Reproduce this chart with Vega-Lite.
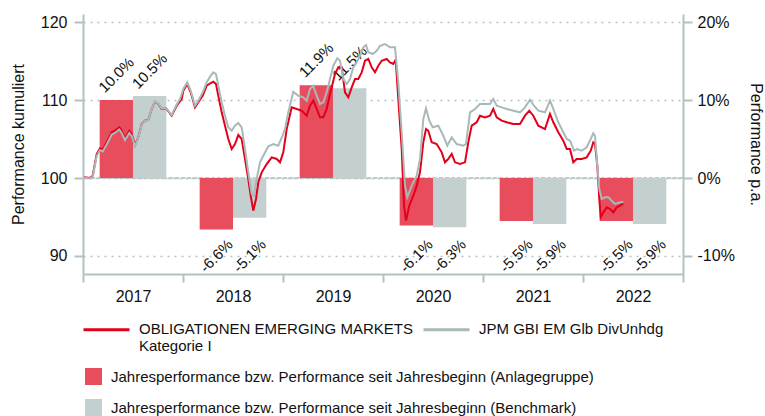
{
  "$schema": "https://vega.github.io/schema/vega-lite/v6.json",
  "width": 600,
  "height": 260,
  "padding": {"left": 10, "top": 14, "right": 2, "bottom": 0},
  "background": "white",
  "config": {
    "font": "Liberation Sans",
    "view": {"stroke": null},
    "locale": {"number": {"decimal": ".", "thousands": ",", "grouping": [3], "currency": ["$", ""], "minus": "-"}},
    "axis": {
      "labelFontSize": 16,
      "labelColor": "#111",
      "titleFontSize": 16,
      "titleFontWeight": "normal",
      "titleColor": "#111",
      "domainColor": "#b3c1c1",
      "domainWidth": 2,
      "tickColor": "#b3c1c1",
      "tickWidth": 2,
      "tickSize": 9
    },
    "legend": {"labelFontSize": 15, "labelColor": "#111", "padding": 0, "title": null, "labelLimit": 600}
  },
  "datasets": {
    "bars": [
      {"year": "2017", "type": "Anlagegruppe", "perf": 0.100},
      {"year": "2017", "type": "Benchmark", "perf": 0.105},
      {"year": "2018", "type": "Anlagegruppe", "perf": -0.066},
      {"year": "2018", "type": "Benchmark", "perf": -0.051},
      {"year": "2019", "type": "Anlagegruppe", "perf": 0.119},
      {"year": "2019", "type": "Benchmark", "perf": 0.115},
      {"year": "2020", "type": "Anlagegruppe", "perf": -0.061},
      {"year": "2020", "type": "Benchmark", "perf": -0.063},
      {"year": "2021", "type": "Anlagegruppe", "perf": -0.055},
      {"year": "2021", "type": "Benchmark", "perf": -0.059},
      {"year": "2022", "type": "Anlagegruppe", "perf": -0.055},
      {"year": "2022", "type": "Benchmark", "perf": -0.059}
    ],
    "lines": [
      {"series": "fund", "t": 2017.010, "v": 100.09},
      {"series": "fund", "t": 2017.070, "v": 100.00},
      {"series": "fund", "t": 2017.097, "v": 100.29},
      {"series": "fund", "t": 2017.137, "v": 103.08},
      {"series": "fund", "t": 2017.170, "v": 103.81},
      {"series": "fund", "t": 2017.197, "v": 103.63},
      {"series": "fund", "t": 2017.237, "v": 104.58},
      {"series": "fund", "t": 2017.287, "v": 105.86},
      {"series": "fund", "t": 2017.320, "v": 106.06},
      {"series": "fund", "t": 2017.363, "v": 106.50},
      {"series": "fund", "t": 2017.387, "v": 106.06},
      {"series": "fund", "t": 2017.420, "v": 105.09},
      {"series": "fund", "t": 2017.463, "v": 106.06},
      {"series": "fund", "t": 2017.487, "v": 105.64},
      {"series": "fund", "t": 2017.520, "v": 104.23},
      {"series": "fund", "t": 2017.553, "v": 105.22},
      {"series": "fund", "t": 2017.587, "v": 106.92},
      {"series": "fund", "t": 2017.620, "v": 107.35},
      {"series": "fund", "t": 2017.653, "v": 107.47},
      {"series": "fund", "t": 2017.687, "v": 108.85},
      {"series": "fund", "t": 2017.720, "v": 109.78},
      {"series": "fund", "t": 2017.753, "v": 109.49},
      {"series": "fund", "t": 2017.787, "v": 108.85},
      {"series": "fund", "t": 2017.830, "v": 108.94},
      {"series": "fund", "t": 2017.887, "v": 107.99},
      {"series": "fund", "t": 2017.937, "v": 109.27},
      {"series": "fund", "t": 2017.987, "v": 110.13},
      {"series": "fund", "t": 2018.003, "v": 111.19},
      {"series": "fund", "t": 2018.043, "v": 112.05},
      {"series": "fund", "t": 2018.077, "v": 110.99},
      {"series": "fund", "t": 2018.120, "v": 109.06},
      {"series": "fund", "t": 2018.153, "v": 109.71},
      {"series": "fund", "t": 2018.197, "v": 110.55},
      {"series": "fund", "t": 2018.237, "v": 111.83},
      {"series": "fund", "t": 2018.277, "v": 112.18},
      {"series": "fund", "t": 2018.303, "v": 112.35},
      {"series": "fund", "t": 2018.330, "v": 112.05},
      {"series": "fund", "t": 2018.353, "v": 110.55},
      {"series": "fund", "t": 2018.387, "v": 108.42},
      {"series": "fund", "t": 2018.420, "v": 106.71},
      {"series": "fund", "t": 2018.453, "v": 105.00},
      {"series": "fund", "t": 2018.487, "v": 103.72},
      {"series": "fund", "t": 2018.520, "v": 104.36},
      {"series": "fund", "t": 2018.553, "v": 105.51},
      {"series": "fund", "t": 2018.587, "v": 105.00},
      {"series": "fund", "t": 2018.620, "v": 102.44},
      {"series": "fund", "t": 2018.653, "v": 99.87},
      {"series": "fund", "t": 2018.677, "v": 97.73},
      {"series": "fund", "t": 2018.703, "v": 95.81},
      {"series": "fund", "t": 2018.730, "v": 97.31},
      {"series": "fund", "t": 2018.753, "v": 99.45},
      {"series": "fund", "t": 2018.787, "v": 100.73},
      {"series": "fund", "t": 2018.837, "v": 101.79},
      {"series": "fund", "t": 2018.887, "v": 102.65},
      {"series": "fund", "t": 2018.937, "v": 102.44},
      {"series": "fund", "t": 2018.970, "v": 102.01},
      {"series": "fund", "t": 2019.003, "v": 103.29},
      {"series": "fund", "t": 2019.037, "v": 106.28},
      {"series": "fund", "t": 2019.087, "v": 109.06},
      {"series": "fund", "t": 2019.137, "v": 108.85},
      {"series": "fund", "t": 2019.187, "v": 108.63},
      {"series": "fund", "t": 2019.237, "v": 107.99},
      {"series": "fund", "t": 2019.270, "v": 109.27},
      {"series": "fund", "t": 2019.303, "v": 109.91},
      {"series": "fund", "t": 2019.337, "v": 108.85},
      {"series": "fund", "t": 2019.370, "v": 107.78},
      {"series": "fund", "t": 2019.403, "v": 107.78},
      {"series": "fund", "t": 2019.437, "v": 108.85},
      {"series": "fund", "t": 2019.470, "v": 110.77},
      {"series": "fund", "t": 2019.520, "v": 113.33},
      {"series": "fund", "t": 2019.553, "v": 114.19},
      {"series": "fund", "t": 2019.587, "v": 114.19},
      {"series": "fund", "t": 2019.620, "v": 110.99},
      {"series": "fund", "t": 2019.653, "v": 110.35},
      {"series": "fund", "t": 2019.687, "v": 111.63},
      {"series": "fund", "t": 2019.720, "v": 112.69},
      {"series": "fund", "t": 2019.753, "v": 112.69},
      {"series": "fund", "t": 2019.787, "v": 113.55},
      {"series": "fund", "t": 2019.820, "v": 115.04},
      {"series": "fund", "t": 2019.853, "v": 115.26},
      {"series": "fund", "t": 2019.887, "v": 114.19},
      {"series": "fund", "t": 2019.920, "v": 113.55},
      {"series": "fund", "t": 2019.953, "v": 114.40},
      {"series": "fund", "t": 2019.987, "v": 115.04},
      {"series": "fund", "t": 2020.037, "v": 115.26},
      {"series": "fund", "t": 2020.070, "v": 114.83},
      {"series": "fund", "t": 2020.103, "v": 114.62},
      {"series": "fund", "t": 2020.127, "v": 115.17},
      {"series": "fund", "t": 2020.153, "v": 110.13},
      {"series": "fund", "t": 2020.187, "v": 103.72},
      {"series": "fund", "t": 2020.210, "v": 96.45},
      {"series": "fund", "t": 2020.230, "v": 94.53},
      {"series": "fund", "t": 2020.263, "v": 96.45},
      {"series": "fund", "t": 2020.303, "v": 97.73},
      {"series": "fund", "t": 2020.337, "v": 99.01},
      {"series": "fund", "t": 2020.370, "v": 100.73},
      {"series": "fund", "t": 2020.403, "v": 104.58},
      {"series": "fund", "t": 2020.430, "v": 106.28},
      {"series": "fund", "t": 2020.453, "v": 106.06},
      {"series": "fund", "t": 2020.487, "v": 104.58},
      {"series": "fund", "t": 2020.537, "v": 104.36},
      {"series": "fund", "t": 2020.587, "v": 103.29},
      {"series": "fund", "t": 2020.620, "v": 102.01},
      {"series": "fund", "t": 2020.653, "v": 102.44},
      {"series": "fund", "t": 2020.687, "v": 103.08},
      {"series": "fund", "t": 2020.720, "v": 102.01},
      {"series": "fund", "t": 2020.770, "v": 101.79},
      {"series": "fund", "t": 2020.820, "v": 102.01},
      {"series": "fund", "t": 2020.853, "v": 104.58},
      {"series": "fund", "t": 2020.887, "v": 106.71},
      {"series": "fund", "t": 2020.937, "v": 107.14},
      {"series": "fund", "t": 2020.970, "v": 107.99},
      {"series": "fund", "t": 2021.020, "v": 107.78},
      {"series": "fund", "t": 2021.070, "v": 107.99},
      {"series": "fund", "t": 2021.103, "v": 108.85},
      {"series": "fund", "t": 2021.137, "v": 107.78},
      {"series": "fund", "t": 2021.187, "v": 107.35},
      {"series": "fund", "t": 2021.237, "v": 107.14},
      {"series": "fund", "t": 2021.303, "v": 106.92},
      {"series": "fund", "t": 2021.370, "v": 106.92},
      {"series": "fund", "t": 2021.420, "v": 107.99},
      {"series": "fund", "t": 2021.463, "v": 108.63},
      {"series": "fund", "t": 2021.503, "v": 107.99},
      {"series": "fund", "t": 2021.553, "v": 106.71},
      {"series": "fund", "t": 2021.620, "v": 106.28},
      {"series": "fund", "t": 2021.670, "v": 108.21},
      {"series": "fund", "t": 2021.703, "v": 107.14},
      {"series": "fund", "t": 2021.753, "v": 105.86},
      {"series": "fund", "t": 2021.803, "v": 104.78},
      {"series": "fund", "t": 2021.837, "v": 103.72},
      {"series": "fund", "t": 2021.870, "v": 103.72},
      {"series": "fund", "t": 2021.903, "v": 102.01},
      {"series": "fund", "t": 2021.937, "v": 102.44},
      {"series": "fund", "t": 2021.987, "v": 102.44},
      {"series": "fund", "t": 2022.037, "v": 102.65},
      {"series": "fund", "t": 2022.077, "v": 103.50},
      {"series": "fund", "t": 2022.103, "v": 104.58},
      {"series": "fund", "t": 2022.120, "v": 104.36},
      {"series": "fund", "t": 2022.143, "v": 101.58},
      {"series": "fund", "t": 2022.163, "v": 97.31},
      {"series": "fund", "t": 2022.177, "v": 94.96},
      {"series": "fund", "t": 2022.203, "v": 95.60},
      {"series": "fund", "t": 2022.237, "v": 96.24},
      {"series": "fund", "t": 2022.270, "v": 96.03},
      {"series": "fund", "t": 2022.303, "v": 95.60},
      {"series": "fund", "t": 2022.337, "v": 96.24},
      {"series": "fund", "t": 2022.370, "v": 96.45},
      {"series": "fund", "t": 2022.403, "v": 96.67},
      {"series": "bench", "t": 2017.010, "v": 100.03},
      {"series": "bench", "t": 2017.070, "v": 99.94},
      {"series": "bench", "t": 2017.097, "v": 100.13},
      {"series": "bench", "t": 2017.137, "v": 102.82},
      {"series": "bench", "t": 2017.170, "v": 103.59},
      {"series": "bench", "t": 2017.197, "v": 103.40},
      {"series": "bench", "t": 2017.237, "v": 104.29},
      {"series": "bench", "t": 2017.287, "v": 105.58},
      {"series": "bench", "t": 2017.320, "v": 105.77},
      {"series": "bench", "t": 2017.363, "v": 106.22},
      {"series": "bench", "t": 2017.387, "v": 105.77},
      {"series": "bench", "t": 2017.420, "v": 104.87},
      {"series": "bench", "t": 2017.463, "v": 105.77},
      {"series": "bench", "t": 2017.487, "v": 105.38},
      {"series": "bench", "t": 2017.520, "v": 104.10},
      {"series": "bench", "t": 2017.553, "v": 105.13},
      {"series": "bench", "t": 2017.587, "v": 106.86},
      {"series": "bench", "t": 2017.620, "v": 107.31},
      {"series": "bench", "t": 2017.653, "v": 107.44},
      {"series": "bench", "t": 2017.687, "v": 108.85},
      {"series": "bench", "t": 2017.720, "v": 109.81},
      {"series": "bench", "t": 2017.753, "v": 109.55},
      {"series": "bench", "t": 2017.787, "v": 108.91},
      {"series": "bench", "t": 2017.830, "v": 108.97},
      {"series": "bench", "t": 2017.887, "v": 108.08},
      {"series": "bench", "t": 2017.937, "v": 109.42},
      {"series": "bench", "t": 2017.970, "v": 110.13},
      {"series": "bench", "t": 2018.003, "v": 111.41},
      {"series": "bench", "t": 2018.043, "v": 112.27},
      {"series": "bench", "t": 2018.077, "v": 111.19},
      {"series": "bench", "t": 2018.120, "v": 109.27},
      {"series": "bench", "t": 2018.153, "v": 109.91},
      {"series": "bench", "t": 2018.197, "v": 110.99},
      {"series": "bench", "t": 2018.237, "v": 112.27},
      {"series": "bench", "t": 2018.277, "v": 113.12},
      {"series": "bench", "t": 2018.303, "v": 113.55},
      {"series": "bench", "t": 2018.330, "v": 113.33},
      {"series": "bench", "t": 2018.353, "v": 111.83},
      {"series": "bench", "t": 2018.387, "v": 109.71},
      {"series": "bench", "t": 2018.420, "v": 107.99},
      {"series": "bench", "t": 2018.453, "v": 106.50},
      {"series": "bench", "t": 2018.487, "v": 106.06},
      {"series": "bench", "t": 2018.520, "v": 106.71},
      {"series": "bench", "t": 2018.553, "v": 107.05},
      {"series": "bench", "t": 2018.587, "v": 106.50},
      {"series": "bench", "t": 2018.620, "v": 103.72},
      {"series": "bench", "t": 2018.653, "v": 100.73},
      {"series": "bench", "t": 2018.687, "v": 97.95},
      {"series": "bench", "t": 2018.710, "v": 97.73},
      {"series": "bench", "t": 2018.737, "v": 99.87},
      {"series": "bench", "t": 2018.770, "v": 102.01},
      {"series": "bench", "t": 2018.803, "v": 102.86},
      {"series": "bench", "t": 2018.853, "v": 104.06},
      {"series": "bench", "t": 2018.903, "v": 104.36},
      {"series": "bench", "t": 2018.953, "v": 104.14},
      {"series": "bench", "t": 2018.990, "v": 105.26},
      {"series": "bench", "t": 2019.020, "v": 106.28},
      {"series": "bench", "t": 2019.053, "v": 108.42},
      {"series": "bench", "t": 2019.103, "v": 111.06},
      {"series": "bench", "t": 2019.153, "v": 110.55},
      {"series": "bench", "t": 2019.203, "v": 110.35},
      {"series": "bench", "t": 2019.237, "v": 109.91},
      {"series": "bench", "t": 2019.270, "v": 111.41},
      {"series": "bench", "t": 2019.303, "v": 111.83},
      {"series": "bench", "t": 2019.337, "v": 110.55},
      {"series": "bench", "t": 2019.370, "v": 109.49},
      {"series": "bench", "t": 2019.403, "v": 109.71},
      {"series": "bench", "t": 2019.437, "v": 110.99},
      {"series": "bench", "t": 2019.470, "v": 112.69},
      {"series": "bench", "t": 2019.503, "v": 114.40},
      {"series": "bench", "t": 2019.543, "v": 115.35},
      {"series": "bench", "t": 2019.570, "v": 115.04},
      {"series": "bench", "t": 2019.603, "v": 112.69},
      {"series": "bench", "t": 2019.637, "v": 112.05},
      {"series": "bench", "t": 2019.670, "v": 112.69},
      {"series": "bench", "t": 2019.703, "v": 114.19},
      {"series": "bench", "t": 2019.737, "v": 114.83},
      {"series": "bench", "t": 2019.770, "v": 115.68},
      {"series": "bench", "t": 2019.803, "v": 116.76},
      {"series": "bench", "t": 2019.830, "v": 117.05},
      {"series": "bench", "t": 2019.853, "v": 116.12},
      {"series": "bench", "t": 2019.897, "v": 115.90},
      {"series": "bench", "t": 2019.937, "v": 116.32},
      {"series": "bench", "t": 2019.970, "v": 116.96},
      {"series": "bench", "t": 2020.020, "v": 117.18},
      {"series": "bench", "t": 2020.070, "v": 116.76},
      {"series": "bench", "t": 2020.120, "v": 116.76},
      {"series": "bench", "t": 2020.153, "v": 112.27},
      {"series": "bench", "t": 2020.187, "v": 105.86},
      {"series": "bench", "t": 2020.220, "v": 99.01},
      {"series": "bench", "t": 2020.243, "v": 97.53},
      {"series": "bench", "t": 2020.287, "v": 99.01},
      {"series": "bench", "t": 2020.337, "v": 100.29},
      {"series": "bench", "t": 2020.370, "v": 102.44},
      {"series": "bench", "t": 2020.403, "v": 107.56},
      {"series": "bench", "t": 2020.430, "v": 108.94},
      {"series": "bench", "t": 2020.463, "v": 107.35},
      {"series": "bench", "t": 2020.497, "v": 106.50},
      {"series": "bench", "t": 2020.553, "v": 106.71},
      {"series": "bench", "t": 2020.603, "v": 105.42},
      {"series": "bench", "t": 2020.643, "v": 104.14},
      {"series": "bench", "t": 2020.687, "v": 105.22},
      {"series": "bench", "t": 2020.737, "v": 104.36},
      {"series": "bench", "t": 2020.803, "v": 104.14},
      {"series": "bench", "t": 2020.830, "v": 104.36},
      {"series": "bench", "t": 2020.870, "v": 108.42},
      {"series": "bench", "t": 2020.920, "v": 108.85},
      {"series": "bench", "t": 2020.970, "v": 109.49},
      {"series": "bench", "t": 2021.020, "v": 109.49},
      {"series": "bench", "t": 2021.070, "v": 109.49},
      {"series": "bench", "t": 2021.103, "v": 110.13},
      {"series": "bench", "t": 2021.137, "v": 109.27},
      {"series": "bench", "t": 2021.187, "v": 109.06},
      {"series": "bench", "t": 2021.237, "v": 108.85},
      {"series": "bench", "t": 2021.303, "v": 108.63},
      {"series": "bench", "t": 2021.370, "v": 108.42},
      {"series": "bench", "t": 2021.420, "v": 109.06},
      {"series": "bench", "t": 2021.470, "v": 110.04},
      {"series": "bench", "t": 2021.510, "v": 109.27},
      {"series": "bench", "t": 2021.553, "v": 108.63},
      {"series": "bench", "t": 2021.620, "v": 108.42},
      {"series": "bench", "t": 2021.670, "v": 109.91},
      {"series": "bench", "t": 2021.703, "v": 108.85},
      {"series": "bench", "t": 2021.753, "v": 107.14},
      {"series": "bench", "t": 2021.803, "v": 105.86},
      {"series": "bench", "t": 2021.837, "v": 105.00},
      {"series": "bench", "t": 2021.870, "v": 104.78},
      {"series": "bench", "t": 2021.910, "v": 103.50},
      {"series": "bench", "t": 2021.943, "v": 103.72},
      {"series": "bench", "t": 2021.987, "v": 103.50},
      {"series": "bench", "t": 2022.037, "v": 103.94},
      {"series": "bench", "t": 2022.077, "v": 105.00},
      {"series": "bench", "t": 2022.103, "v": 105.73},
      {"series": "bench", "t": 2022.120, "v": 105.42},
      {"series": "bench", "t": 2022.143, "v": 101.58},
      {"series": "bench", "t": 2022.163, "v": 98.59},
      {"series": "bench", "t": 2022.187, "v": 97.31},
      {"series": "bench", "t": 2022.220, "v": 97.53},
      {"series": "bench", "t": 2022.253, "v": 97.53},
      {"series": "bench", "t": 2022.287, "v": 97.09},
      {"series": "bench", "t": 2022.320, "v": 96.67},
      {"series": "bench", "t": 2022.370, "v": 96.88},
      {"series": "bench", "t": 2022.403, "v": 96.96}
    ]
  },
  "layer": [
    {
      "data": {"name": "bars"},
      "encoding": {
        "x": {
          "field": "year", "type": "ordinal",
          "scale": {"paddingInner": 0, "paddingOuter": 0},
          "axis": {"title": null, "labelAngle": 0, "tickBand": "extent", "tickSize": 8, "labelPadding": 6, "domainWidth": 2}
        },
        "y": {
          "type": "quantitative",
          "scale": {"domain": [-0.1231, 0.2103], "nice": false, "zero": false},
          "axis": {"orient": "right", "title": "Performance p.a.", "values": [-0.1, 0, 0.1, 0.2], "format": ".0%", "grid": false, "labelPadding": 5, "titlePadding": 13}
        }
      },
      "layer": [
        {
          "mark": {"type": "rule", "stroke": "#c0cbcb", "strokeWidth": 1.5, "strokeDash": [4, 2]},
          "encoding": {"x": null, "y": {"datum": 0}}
        },
        {
          "mark": {"type": "bar"},
          "encoding": {
            "y": {"field": "perf", "type": "quantitative"},
            "xOffset": {"field": "type", "type": "nominal", "scale": {"paddingInner": 0, "paddingOuter": 0.5}},
            "fill": {
              "field": "type", "type": "nominal",
              "scale": {"domain": ["Anlagegruppe", "Benchmark"], "range": ["#e84d5e", "#c4d0d0"]},
              "legend": {
                "orient": "none", "legendX": 2, "legendY": 354, "direction": "vertical",
                "symbolType": "square", "symbolSize": 289, "symbolStrokeWidth": 0, "symbolOpacity": 1,
                "labelOffset": 9, "rowPadding": 14,
                "labelExpr": "'Jahresperformance bzw. Performance seit Jahresbeginn (' + datum.label + ')'"
              }
            }
          }
        },
        {
          "transform": [{"filter": "datum.perf > 0"}],
          "mark": {"type": "text", "angle": -45, "align": "center", "baseline": "middle", "dx": 17.7, "dy": -17.7, "fontSize": 15, "color": "#111"},
          "encoding": {
            "y": {"field": "perf", "type": "quantitative"},
            "xOffset": {"field": "type", "type": "nominal"},
            "text": {"field": "perf", "type": "quantitative", "format": ".1%"}
          }
        },
        {
          "transform": [{"filter": "datum.perf < 0"}],
          "mark": {"type": "text", "angle": -45, "align": "center", "baseline": "middle", "fontSize": 15, "color": "#111"},
          "encoding": {
            "y": {"datum": -0.1},
            "xOffset": {"field": "type", "type": "nominal"},
            "text": {"field": "perf", "type": "quantitative", "format": ".1%"}
          }
        }
      ]
    },
    {
      "data": {"name": "lines"},
      "mark": {"type": "line", "strokeWidth": 2},
      "encoding": {
        "x": {"field": "t", "type": "quantitative", "scale": {"domain": [2017, 2023], "nice": false, "zero": false}, "axis": null},
        "y": {
          "field": "v", "type": "quantitative",
          "scale": {"domain": [87.69, 121.03], "nice": false, "zero": false},
          "axis": {
            "orient": "left", "title": "Performance kumuliert", "values": [90, 100, 110, 120],
            "grid": true, "gridColor": "#b3c1c1", "gridWidth": 1.5,
            "gridDash": {"condition": {"test": "datum.value === 100", "value": [4, 2]}, "value": [2, 5]},
            "labelPadding": 7, "titlePadding": 14
          }
        },
        "stroke": {
          "field": "series", "type": "nominal",
          "scale": {"domain": ["fund", "bench"], "range": ["#e2001a", "#a9b8b8"]},
          "legend": {
            "orient": "none", "legendX": -1, "legendY": 291, "direction": "horizontal", "columns": 2,
            "symbolType": "stroke", "symbolSize": 2116, "symbolStrokeWidth": 3, "labelOffset": 8, "columnPadding": 4,
            "labelBaseline": "top",
            "labelExpr": "datum.label == 'fund' ? ['OBLIGATIONEN EMERGING MARKETS', 'Kategorie I'] : ['JPM GBI EM Glb DivUnhdg', ' ']",
            "encode": {"labels": {"update": {"dy": {"value": -8}}}}
          }
        }
      }
    }
  ],
  "resolve": {"scale": {"x": "independent", "y": "independent"}}
}
